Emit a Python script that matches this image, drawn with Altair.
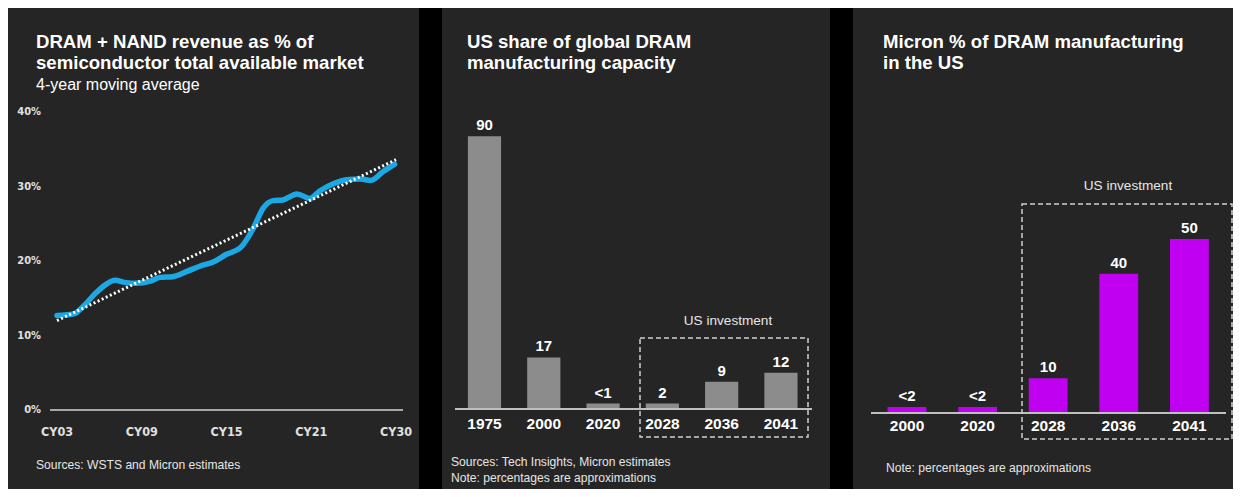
import altair as alt
import pandas as pd

SANS = "Liberation Sans, Arial, Helvetica, sans-serif"
NARROW = "Liberation Sans Narrow, Arial Narrow, DejaVu Sans Condensed, sans-serif"
PANEL_BG = "#252525"
BLUE = "#1ba8e4"
GRAY_BAR = "#8c8c8c"
MAGENTA = "#c000f0"

# ---------------- Panel 1 data ----------------
p1_title = ["DRAM + NAND revenue as % of", "semiconductor total available market"]
p1_subtitle = "4-year moving average"
p1_source = "Sources: WSTS and Micron estimates"
# position along the x axis (0 = CY03 ... 24 = CY30 tick) and value in %
line_pos = [0.0, 1.2, 1.9, 2.8, 3.5, 4.1, 4.9, 5.6, 6.6, 7.3, 8.2, 9.2, 10.1, 11.1,
            12.0, 13.0, 13.9, 14.6, 15.3, 16.0, 17.0, 17.9, 18.6, 19.6, 20.5, 21.5,
            22.2, 23.1, 23.9]
line_val = [12.7, 12.9, 14.0, 15.8, 16.9, 17.4, 17.1, 17.0, 17.3, 17.8, 17.9, 18.6,
            19.3, 19.9, 20.9, 21.8, 24.4, 27.1, 28.1, 28.2, 29.0, 28.4, 29.4, 30.4,
            30.9, 31.0, 30.8, 32.0, 33.0]
trend_pos = [0.0, 24.0]
trend_val = [12.0, 33.6]
x_tick_pos = [0, 6, 12, 18, 24]
x_tick_labels = ["CY03", "CY09", "CY15", "CY21", "CY30"]
y_tick_vals = [0, 10, 20, 30, 40]
y_tick_labels = ["0%", "10%", "20%", "30%", "40%"]

# ---------------- Panel 2 data ----------------
p2_title = ["US share of global DRAM", "manufacturing capacity"]
p2_years = ["1975", "2000", "2020", "2028", "2036", "2041"]
p2_values = [90, 17, 1.8, 1.8, 9, 12]
p2_labels = ["90", "17", "<1", "2", "9", "12"]
p2_notes = ["Sources: Tech Insights, Micron estimates", "Note: percentages are approximations"]

# ---------------- Panel 3 data ----------------
p3_title = ["Micron % of DRAM manufacturing", "in the US"]
p3_years = ["2000", "2020", "2028", "2036", "2041"]
p3_values = [1.7, 1.7, 10, 40, 50]
p3_labels = ["<2", "<2", "10", "40", "50"]
p3_note = "Note: percentages are approximations"
invest_label = "US investment"

one = pd.DataFrame({"k": [0]})

TITLE_SIZE = 18.6


def txt(s, x, y, size, bold=False, color="#ffffff", align="left", font=SANS):
    return alt.Chart(pd.DataFrame({"s": [s]})).mark_text(
        align=align, baseline="middle", fontSize=size,
        fontWeight="bold" if bold else "normal", color=color, font=font
    ).encode(x=alt.value(x), y=alt.value(y), text="s:N")


def hrule(x1, x2, y, color, w):
    return alt.Chart(one).mark_rule(color=color, strokeWidth=w).encode(
        x=alt.value(x1), x2=alt.value(x2), y=alt.value(y))


def dashbox(x1, x2, y1, y2):
    return alt.Chart(one).mark_rect(
        fill="transparent", stroke="#cfcfcf", strokeWidth=1.5, strokeDash=[5, 3]
    ).encode(x=alt.value(x1), x2=alt.value(x2), y=alt.value(y1), y2=alt.value(y2))


H = 481

# ---------------- Panel 1 ----------------
xs1 = alt.Scale(domain=[0, 24], range=[49, 388], nice=False, zero=False)
ys1 = alt.Scale(domain=[0, 40], range=[402, 104], nice=False)

df_line = pd.DataFrame({"t": line_pos, "v": line_val})
df_trend = pd.DataFrame({"t": trend_pos, "v": trend_val})
df_xt = pd.DataFrame({"t": x_tick_pos, "lab": x_tick_labels})
df_yt = pd.DataFrame({"v": y_tick_vals, "lab": y_tick_labels})

p1_line = alt.Chart(df_line).mark_line(
    color=BLUE, strokeWidth=5.5, interpolate="monotone", strokeCap="round"
).encode(x=alt.X("t:Q", scale=xs1, axis=None), y=alt.Y("v:Q", scale=ys1, axis=None))
p1_trend = alt.Chart(df_trend).mark_line(
    color="#ffffff", strokeWidth=3, strokeDash=[2, 2.5]
).encode(x=alt.X("t:Q", scale=xs1, axis=None), y=alt.Y("v:Q", scale=ys1, axis=None))
p1_xlab = alt.Chart(df_xt).mark_text(
    font=NARROW, fontSize=12.5, fontWeight="bold", color="#e0e0e0", align="center",
    baseline="middle"
).encode(x=alt.X("t:Q", scale=xs1, axis=None), y=alt.value(424), text="lab:N")
p1_ylab = alt.Chart(df_yt).mark_text(
    font=NARROW, fontSize=11, fontWeight="bold", color="#e0e0e0", align="right",
    baseline="middle"
).encode(x=alt.value(33), y=alt.Y("v:Q", scale=ys1, axis=None), text="lab:N")

panel1 = alt.layer(
    hrule(42, 395, 402, "#a6a6a6", 2),
    p1_line, p1_trend, p1_xlab, p1_ylab,
    txt(p1_title[0], 28, 34, TITLE_SIZE, bold=True),
    txt(p1_title[1], 28, 55, TITLE_SIZE, bold=True),
    txt(p1_subtitle, 28, 77, 16),
    txt(p1_source, 28, 457, 12.1, color="#e6e6e6"),
).properties(width=411, height=H)

# ---------------- Panel 2 ----------------
xs2 = alt.Scale(domain=p2_years, range=[12.85, 368.6], paddingInner=0.44, paddingOuter=0.22)
ys2 = alt.Scale(domain=[0, 100], range=[401, 98], nice=False)
df2 = pd.DataFrame({"year": p2_years, "val": p2_values, "label": p2_labels})

p2_bars = alt.Chart(df2).mark_bar(color=GRAY_BAR).encode(
    x=alt.X("year:N", scale=xs2, axis=None), y=alt.Y("val:Q", scale=ys2, axis=None))
p2_vals = alt.Chart(df2).mark_text(
    font=SANS, fontSize=15, fontWeight="bold", color="#ffffff", dy=-11, baseline="middle"
).encode(x=alt.X("year:N", scale=xs2, axis=None), y=alt.Y("val:Q", scale=ys2, axis=None),
         text="label:N")
p2_x = alt.Chart(df2).mark_text(
    font=SANS, fontSize=15.5, fontWeight="bold", color="#ffffff", baseline="middle"
).encode(x=alt.X("year:N", scale=xs2, axis=None), y=alt.value(416), text="year:N")

panel2 = alt.layer(
    p2_bars,
    hrule(13, 370, 401, "#bfbfbf", 2),
    p2_vals, p2_x,
    dashbox(198, 366, 330, 429),
    txt(invest_label, 286, 313, 13.6, align="center", color="#e6e6e6"),
    txt(p2_title[0], 25, 34, TITLE_SIZE, bold=True),
    txt(p2_title[1], 25, 55, TITLE_SIZE, bold=True),
    txt(p2_notes[0], 9, 454, 12.1, color="#e6e6e6"),
    txt(p2_notes[1], 9, 470, 12.1, color="#e6e6e6"),
).properties(width=388, height=H)

# ---------------- Panel 3 ----------------
xs3 = alt.Scale(domain=p3_years, range=[18.7, 371.7], paddingInner=0.45, paddingOuter=0.225)
ys3 = alt.Scale(domain=[0, 100], range=[405, 57], nice=False)
df3 = pd.DataFrame({"year": p3_years, "val": p3_values, "label": p3_labels})

p3_bars = alt.Chart(df3).mark_bar(color=MAGENTA).encode(
    x=alt.X("year:N", scale=xs3, axis=None), y=alt.Y("val:Q", scale=ys3, axis=None))
p3_vals = alt.Chart(df3).mark_text(
    font=SANS, fontSize=15, fontWeight="bold", color="#ffffff", dy=-11, baseline="middle"
).encode(x=alt.X("year:N", scale=xs3, axis=None), y=alt.Y("val:Q", scale=ys3, axis=None),
         text="label:N")
p3_x = alt.Chart(df3).mark_text(
    font=SANS, fontSize=15.5, fontWeight="bold", color="#ffffff", baseline="middle"
).encode(x=alt.X("year:N", scale=xs3, axis=None), y=alt.value(418), text="year:N")

panel3 = alt.layer(
    p3_bars,
    hrule(18, 373, 405, "#bfbfbf", 2),
    p3_vals, p3_x,
    dashbox(169, 379, 196, 431),
    txt(invest_label, 275, 178, 13.6, align="center", color="#e6e6e6"),
    txt(p3_title[0], 30, 34, TITLE_SIZE, bold=True),
    txt(p3_title[1], 30, 55, TITLE_SIZE, bold=True),
    txt(p3_note, 33, 460, 12.1, color="#e6e6e6"),
).properties(width=380, height=H)

chart = alt.hconcat(panel1, panel2, panel3, spacing=23).properties(
    background="#000000", padding=0
).configure_view(fill=PANEL_BG, strokeWidth=0)

chart.save("out.html", embed_options={"renderer": "svg", "actions": False})
